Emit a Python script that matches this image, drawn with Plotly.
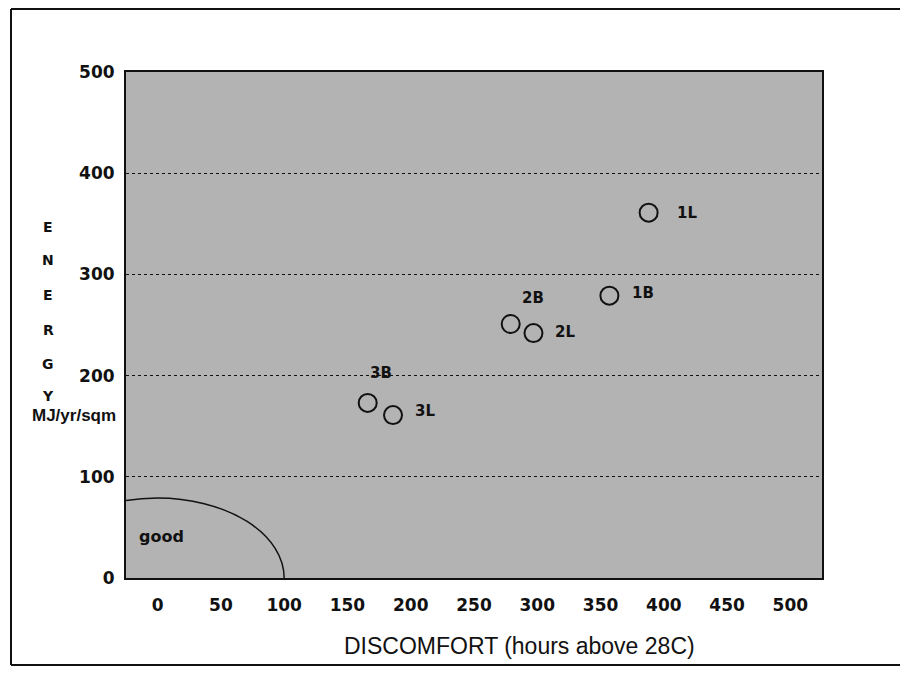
import plotly.graph_objects as go

# ---- data ----
case_labels = ["1L", "1B", "2B", "2L", "3B", "3L"]
discomfort_hours = [388, 357, 279, 297, 166, 186]
energy_mj = [361, 279, 251, 242, 173, 161]

x_tick_vals = [0, 50, 100, 150, 200, 250, 300, 350, 400, 450, 500]
y_tick_vals = [0, 100, 200, 300, 400, 500]
y_title_letters = ["E", "N", "E", "R", "G", "Y"]

good_radius_x = 100
good_radius_y = 79

# ---- style / layout constants ----
# page body has an 8px margin, so figure origin sits at (8, 8) in the window
OFF = 8
W, H = 900, 675
L, T = 126 - OFF, 72 - OFF
PW, PH = 696, 506
R, B = W - L - PW, H - T - PH

def px_x(px):  # window pixel -> paper x
    return (px - OFF - L) / PW

def px_y(py):  # window pixel -> paper y
    return (T + PH - (py - OFF)) / PH

label_offsets = {  # pixel offsets of each label from its point
    "1L": (38, 0), "1B": (34, 3), "2B": (22, 26),
    "2L": (32, 1), "3B": (13, 30), "3L": (32, 4),
}

FONT = "DejaVu Sans"
INK = "#111"

fig = go.Figure()
fig.add_trace(go.Scatter(
    x=discomfort_hours, y=energy_mj, mode="markers",
    marker=dict(size=18, color="rgba(0,0,0,0)", line=dict(color=INK, width=2)),
    hoverinfo="skip", showlegend=False,
))

annotations = []
for lab, xv, yv in zip(case_labels, discomfort_hours, energy_mj):
    dx, dy = label_offsets[lab]
    annotations.append(dict(x=xv, y=yv, xref="x", yref="y", text=lab, showarrow=False,
                            xshift=dx, yshift=dy,
                            font=dict(family=FONT, size=15, color=INK, weight="bold")))

annotations.append(dict(x=3, y=41, xref="x", yref="y", text="good", showarrow=False,
                        font=dict(family=FONT, size=16, color=INK, weight="bold")))

letter_py = [227, 260, 295, 330, 364, 396]
for ch, py in zip(y_title_letters, letter_py):
    annotations.append(dict(x=px_x(48), y=px_y(py), xref="paper", yref="paper", text=ch,
                            showarrow=False, xanchor="center", yanchor="middle",
                            font=dict(family=FONT, size=14, color=INK, weight="bold")))
annotations.append(dict(x=px_x(74), y=px_y(415), xref="paper", yref="paper", text="MJ/yr/sqm",
                        showarrow=False, xanchor="center", yanchor="middle",
                        font=dict(family="Liberation Sans", size=17, color=INK, weight="bold")))
annotations.append(dict(x=px_x(519), y=px_y(646), xref="paper", yref="paper",
                        text="DISCOMFORT (hours above 28C)",
                        showarrow=False, xanchor="center", yanchor="middle",
                        font=dict(family="Liberation Sans", size=23, color=INK)))

frame_left, frame_top, frame_bottom, frame_right = px_x(11), px_y(9), px_y(665), px_x(930)
shapes = [
    dict(type="circle", xref="x", yref="y", x0=-good_radius_x, x1=good_radius_x,
         y0=-good_radius_y, y1=good_radius_y, line=dict(color=INK, width=1.5), layer="above"),
    dict(type="line", xref="paper", yref="paper", x0=frame_left, x1=frame_left,
         y0=frame_bottom, y1=frame_top, line=dict(color=INK, width=2)),
    dict(type="line", xref="paper", yref="paper", x0=frame_left, x1=frame_right,
         y0=frame_top, y1=frame_top, line=dict(color=INK, width=2)),
    dict(type="line", xref="paper", yref="paper", x0=frame_left, x1=frame_right,
         y0=frame_bottom, y1=frame_bottom, line=dict(color=INK, width=2)),
]

fig.update_layout(
    width=W, height=H,
    margin=dict(l=L, r=R, t=T, b=B, autoexpand=False),
    paper_bgcolor="white", plot_bgcolor="#b3b3b3",
    showlegend=False,
    annotations=annotations, shapes=shapes,
    font=dict(family=FONT, color=INK),
)
fig.update_xaxes(range=[-25, 525], tickvals=x_tick_vals, showgrid=False, zeroline=False,
                 showline=True, linecolor=INK, linewidth=2, mirror=True, ticks="",
                 ticklabelstandoff=11,
                 tickfont=dict(family=FONT, size=17, color=INK, weight="bold"))
fig.update_yaxes(range=[0, 500], tickvals=y_tick_vals, showgrid=True, gridcolor=INK,
                 griddash="dot", gridwidth=1, zeroline=False,
                 showline=True, linecolor=INK, linewidth=2, mirror=True, ticks="",
                 ticklabelstandoff=6,
                 tickfont=dict(family=FONT, size=17, color=INK, weight="bold"))

fig.write_html("out.html")
